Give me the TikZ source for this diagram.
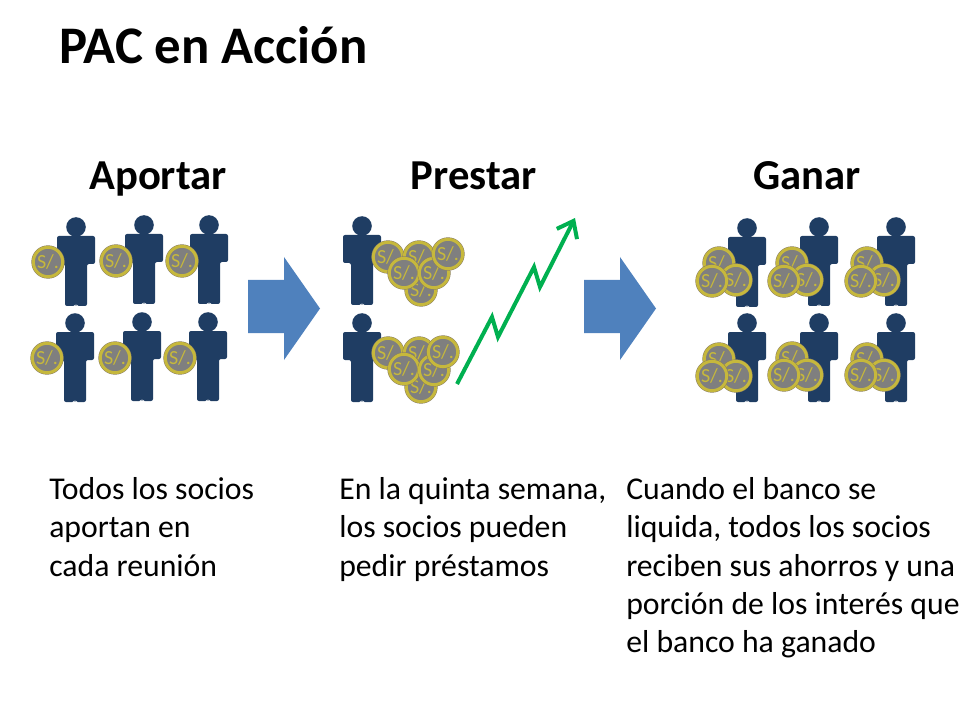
\documentclass[tikz,border=0pt]{standalone}
\usepackage{fontspec}
\setmainfont{Carlito}
\usetikzlibrary{arrows.meta}
\definecolor{azulP}{HTML}{1F3D63}
\definecolor{azulF}{HTML}{4F81BD}
\definecolor{verdeF}{HTML}{00B050}
\definecolor{grisM}{HTML}{7F7F7F}
\definecolor{oroM}{HTML}{C6B83C}
\definecolor{bordeM}{HTML}{8C8060}
\newcommand{\sol}{\makebox[0pt]{\raisebox{-0.32em}[0pt][0pt]{S/.}}}

\begin{document}
\begin{tikzpicture}[x=0.75pt, y=-0.75pt]
 \tikzstyle{titulo}=[anchor=base west, inner sep=0pt, font=\fontsize{39.6}{48}\selectfont\bfseries]
 \tikzstyle{cabeza}=[anchor=base, inner sep=0pt, font=\fontsize{32}{38}\selectfont\bfseries]
 \tikzstyle{texto}=[anchor=north west, inner sep=0pt, align=left, font=\fontsize{23.8}{28.8}\selectfont]
 \tikzstyle{moneda}=[circle, fill=grisM, minimum size=22pt, inner sep=0pt, text=oroM, preaction={draw=bordeM, line width=3pt}, draw=oroM, line width=2.2pt, font=\fontsize{15}{15}\selectfont]
 \tikzstyle{flecha}=[fill=azulF]
 \tikzstyle{alza}=[draw=verdeF, line width=3pt, -{Straight Barb[length=11pt, width=17pt]}]
 \tikzset{pics/persona/.style={code={
  \fill[azulP] (0,0) circle (9.8);
  \fill[azulP, rounded corners=1.5pt] (-19,9)--(19,9)--(19,37)--(11,37)--(11,79)--(0.6,79)--(0,77)--(-0.6,79)--(-11,79)--(-11,37)--(-19,37)--cycle;
 }}}
 \useasboundingbox (0,0) rectangle (960,720);
 %
 \node[titulo] (titulo) at (59,64) {PAC en Acción};
 \node[cabeza] (aportar) at (158,190) {Aportar};
 \node[cabeza] (prestar) at (474,190) {Prestar};
 \node[cabeza] (ganar) at (807,190) {Ganar};
 %
 \pic (A1) at (76,227) {persona};
 \pic (A2) at (144,225) {persona};
 \pic (A3) at (209,225) {persona};
 \pic (A4) at (75,323) {persona};
 \pic (A5) at (142,322) {persona};
 \pic (A6) at (208,322) {persona};
 \node[moneda] (mA1) at (48,262) {\sol};
 \node[moneda] (mA2) at (116,261) {\sol};
 \node[moneda] (mA3) at (182,261) {\sol};
 \node[moneda] (mA4) at (47,358) {\sol};
 \node[moneda] (mA5) at (115,358) {\sol};
 \node[moneda] (mA6) at (180,358) {\sol};
 %
 \fill[flecha] (248,280)--(284,280)--(284,257)--(320,308.500)--(284,360)--(284,333)--(248,333)--cycle;
 %
 \pic (P1) at (362,226) {persona};
 \pic (P2) at (362,323) {persona};
 \node[moneda] (mP1) at (388,257) {\sol};
 \node[moneda] (mP2) at (419,257) {\sol};
 \node[moneda] (mP3) at (421,290) {\sol};
 \node[moneda] (mP4) at (404,273) {\sol};
 \node[moneda] (mP5) at (434,273) {\sol};
 \node[moneda] (mP6) at (448,254) {\sol};
 \node[moneda] (mP7) at (388,353) {\sol};
 \node[moneda] (mP8) at (419,353) {\sol};
 \node[moneda] (mP9) at (421,387) {\sol};
 \node[moneda] (mP10) at (404,369) {\sol};
 \node[moneda] (mP11) at (434,370) {\sol};
 \node[moneda] (mP12) at (443,352) {\sol};
 %
 \coordinate (a1) at (457,384);
 \coordinate (a2) at (492,317);
 \coordinate (a3) at (498,337);
 \coordinate (a4) at (534,267);
 \coordinate (a5) at (540,287);
 \coordinate (a6) at (575,218);
 \draw[alza] (a1)--(a2)--(a3)--(a4)--(a5)--(a6);
 %
 \fill[flecha] (584,280)--(620,280)--(620,257)--(656,308.500)--(620,360)--(620,333)--(584,333)--cycle;
 %
 \pic (G1) at (747,228) {persona};
 \pic (G2) at (819,227) {persona};
 \pic (G3) at (896,227) {persona};
 \pic (G4) at (747,323) {persona};
 \pic (G5) at (819,323) {persona};
 \pic (G6) at (896,323) {persona};
 \node[moneda] (mG1) at (719,263) {\sol};
 \node[moneda] (mG2) at (736,280) {\sol};
 \node[moneda] (mG3) at (712,281) {\sol};
 \node[moneda] (mG4) at (792,263) {\sol};
 \node[moneda] (mG5) at (807,280) {\sol};
 \node[moneda] (mG6) at (784,281) {\sol};
 \node[moneda] (mG7) at (867,263) {\sol};
 \node[moneda] (mG8) at (884,280) {\sol};
 \node[moneda] (mG9) at (861,281) {\sol};
 \node[moneda] (mG10) at (719,359) {\sol};
 \node[moneda] (mG11) at (736,376) {\sol};
 \node[moneda] (mG12) at (712,376) {\sol};
 \node[moneda] (mG13) at (792,358) {\sol};
 \node[moneda] (mG14) at (807,375) {\sol};
 \node[moneda] (mG15) at (784,375) {\sol};
 \node[moneda] (mG16) at (867,359) {\sol};
 \node[moneda] (mG17) at (884,375) {\sol};
 \node[moneda] (mG18) at (861,375) {\sol};
 %%
 \node[texto] (tA) at (49,477) {Todos los socios\\aportan en\\cada reunión};
 \node[texto] (tP) at (339,477) {En la quinta semana,\\los socios pueden\\pedir préstamos};
 \node[texto] (tG) at (626,477) {Cuando el banco se\\liquida, todos los socios\\reciben sus ahorros y una\\porción de los interés que\\el banco ha ganado};
\end{tikzpicture}
\end{document}
